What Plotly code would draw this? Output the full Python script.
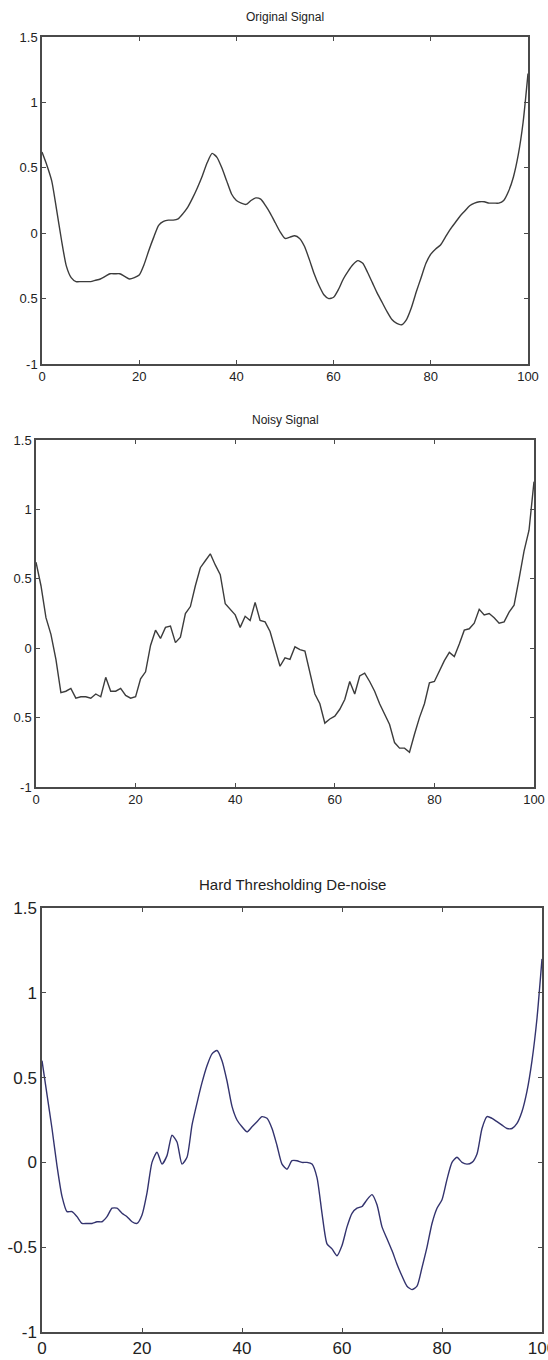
import plotly.graph_objects as go

x_vals = list(range(0, 101))

original = [0.62, 0.52, 0.40, 0.18, -0.05, -0.25, -0.34, -0.37, -0.37, -0.37,
            -0.37, -0.36, -0.35, -0.33, -0.31, -0.31, -0.31, -0.33, -0.35, -0.34,
            -0.32, -0.24, -0.13, -0.03, 0.06, 0.09, 0.10, 0.10, 0.11, 0.15,
            0.20, 0.27, 0.35, 0.44, 0.54, 0.61, 0.58, 0.50, 0.40, 0.30,
            0.25, 0.23, 0.22, 0.25, 0.27, 0.26, 0.21, 0.15, 0.08, 0.01,
            -0.04, -0.03, -0.02, -0.04, -0.10, -0.20, -0.31, -0.40, -0.47, -0.50,
            -0.49, -0.43, -0.35, -0.29, -0.24, -0.21, -0.23, -0.30, -0.38, -0.46,
            -0.53, -0.60, -0.66, -0.69, -0.70, -0.66, -0.57, -0.45, -0.34, -0.23,
            -0.16, -0.12, -0.09, -0.03, 0.03, 0.08, 0.13, 0.17, 0.21, 0.23,
            0.24, 0.24, 0.23, 0.23, 0.23, 0.25, 0.32, 0.43, 0.60, 0.85, 1.22]

noisy = [0.62, 0.45, 0.22, 0.10, -0.08, -0.32, -0.31, -0.29, -0.36, -0.35,
         -0.35, -0.36, -0.33, -0.35, -0.21, -0.31, -0.31, -0.29, -0.34, -0.36,
         -0.35, -0.22, -0.17, 0.02, 0.13, 0.07, 0.15, 0.16, 0.04, 0.08,
         0.25, 0.30, 0.45, 0.58, 0.63, 0.68, 0.60, 0.53, 0.32, 0.28,
         0.24, 0.15, 0.23, 0.20, 0.33, 0.20, 0.19, 0.12, 0.00, -0.13,
         -0.07, -0.08, 0.01, -0.01, -0.02, -0.17, -0.33, -0.40, -0.54, -0.51,
         -0.49, -0.44, -0.37, -0.24, -0.33, -0.20, -0.18, -0.24, -0.31, -0.40,
         -0.47, -0.55, -0.68, -0.72, -0.72, -0.75, -0.62, -0.50, -0.40, -0.25,
         -0.24, -0.16, -0.09, -0.03, -0.06, 0.03, 0.13, 0.14, 0.18, 0.28,
         0.24, 0.25, 0.22, 0.18, 0.19, 0.26, 0.31, 0.50, 0.70, 0.85, 1.20]

denoised = [0.60, 0.40, 0.20, -0.02, -0.20, -0.29, -0.29, -0.32, -0.36, -0.36,
            -0.36, -0.35, -0.35, -0.32, -0.27, -0.27, -0.30, -0.32, -0.35, -0.36,
            -0.31, -0.18, 0.00, 0.06, -0.01, 0.04, 0.16, 0.12, -0.01, 0.03,
            0.22, 0.35, 0.47, 0.57, 0.64, 0.66, 0.60, 0.48, 0.33, 0.25,
            0.21, 0.18, 0.21, 0.24, 0.27, 0.26, 0.20, 0.10, -0.01, -0.04,
            0.01, 0.01, 0.00, 0.00, -0.01, -0.09, -0.30, -0.48, -0.51, -0.55,
            -0.49, -0.38, -0.30, -0.27, -0.26, -0.22, -0.19, -0.25, -0.38, -0.45,
            -0.52, -0.60, -0.67, -0.73, -0.75, -0.73, -0.62, -0.50, -0.36, -0.27,
            -0.22, -0.10, 0.00, 0.03, 0.00, -0.01, 0.00, 0.05, 0.20, 0.27,
            0.26, 0.24, 0.22, 0.20, 0.20, 0.23, 0.30, 0.42, 0.60, 0.85, 1.20]

titles = ["Original Signal", "Noisy Signal", "Hard Thresholding De-noise"]
x_ticks = [0, 20, 40, 60, 80, 100]
x_tick_text = ["0", "20", "40", "60", "80", "100"]
y_ticks = [-1, -0.5, 0, 0.5, 1, 1.5]
y_tick_text_top = ["-1", "0.5", "0", "0.5", "1", "1.5"]
y_tick_text_bottom = ["-1", "-0.5", "0", "0.5", "1", "1.5"]

W, H = 548, 1360
# pixel boxes: left, right, top, bottom
boxes = [(42, 528, 37, 364), (36, 534, 440, 787), (42, 542, 908, 1332)]
title_y = [17, 420, 884]
font_sizes = [13, 13, 17]
title_sizes = [12, 12, 15]
line_colors = ["#3c3c3c", "#3c3c3c", "#33336e"]
line_shapes = ["spline", "linear", "spline"]
series = [original, noisy, denoised]
ytexts = [y_tick_text_top, y_tick_text_top, y_tick_text_bottom]

FONT = "Liberation Sans Narrow, Arial Narrow, Liberation Sans, sans-serif"

fig = go.Figure()
layout = dict(template="none", width=W, height=H, autosize=False,
              margin=dict(l=0, r=0, t=0, b=0, pad=0),
              paper_bgcolor="white", plot_bgcolor="white",
              showlegend=False, annotations=[])

for i in range(3):
    xa = "x" if i == 0 else f"x{i+1}"
    ya = "y" if i == 0 else f"y{i+1}"
    fig.add_trace(go.Scatter(x=x_vals, y=series[i], mode="lines",
                             line=dict(color=line_colors[i], width=1.4,
                                       shape=line_shapes[i], smoothing=0.6),
                             xaxis=xa, yaxis=ya, hoverinfo="skip"))
    l, r, t, b = boxes[i]
    axis_common = dict(showline=True, linecolor="#4a4a4a", linewidth=1.5,
                       mirror="ticks", ticks="inside", ticklen=4,
                       tickcolor="#4a4a4a", tickwidth=1, showgrid=False,
                       zeroline=False, automargin=False,
                       ticklabeloverflow="allow",
                       tickfont=dict(family=FONT, size=font_sizes[i], color="#222"))
    layout["xaxis" if i == 0 else f"xaxis{i+1}"] = dict(
        domain=[l / W, r / W], range=[0, 100], anchor=ya,
        tickvals=x_ticks, ticktext=x_tick_text, **axis_common)
    layout["yaxis" if i == 0 else f"yaxis{i+1}"] = dict(
        domain=[1 - b / H, 1 - t / H], range=[-1, 1.5], anchor=xa,
        tickvals=y_ticks, ticktext=ytexts[i], **axis_common)
    layout["annotations"].append(dict(
        text=titles[i], x=(l + r) / 2 / W, y=1 - title_y[i] / H,
        xref="paper", yref="paper", showarrow=False,
        xanchor="center", yanchor="middle",
        font=dict(family=FONT, size=title_sizes[i], color="#222")))

fig.update_layout(**layout)
fig.write_html(
    "out.html",
    config={"displayModeBar": False},
    post_script="document.body.style.margin='0';"
                "document.documentElement.style.overflow='hidden';"
                "document.body.style.overflow='hidden';",
)
